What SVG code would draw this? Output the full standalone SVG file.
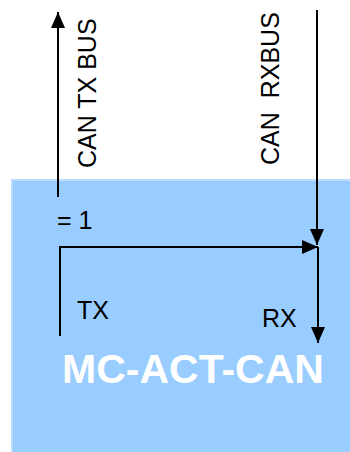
<svg xmlns="http://www.w3.org/2000/svg" width="350" height="452" viewBox="0 0 350 452">
<defs>
<style>
.t{font-family:"Liberation Sans",Arial,sans-serif;font-size:25px;fill:#000}
.w{font-family:"Liberation Sans",Arial,sans-serif;font-size:41px;font-weight:bold;fill:#fff}
.c{stroke:#000;stroke-width:2;fill:none}
</style>
<marker id="ah" viewBox="0 0 16 14" refX="16" refY="7" markerWidth="16" markerHeight="14" markerUnits="userSpaceOnUse" orient="auto">
<path d="M0,0 L16,7 L0,14 Z" fill="#000"/>
</marker>
</defs>
<g id="block">
<rect x="11" y="179" width="345" height="280" fill="#99CCFF"/>
<path d="M12,452 V180 H350" stroke="#BBDDFF" stroke-width="2" fill="none"/>
<text class="w" x="62" y="383">MC-ACT-CAN</text>
<text class="t" x="57" y="229">= 1</text>
<text class="t" x="77" y="319">TX</text>
<text class="t" x="262" y="327">RX</text>
</g>
<g id="labels">
<text class="t" transform="translate(96,168) rotate(-90)">CAN TX BUS</text>
<text class="t" transform="translate(279,165) rotate(-90)" xml:space="preserve">CAN  RXBUS</text>
</g>
<g id="connectors">
<line class="c" x1="58" y1="197" x2="58" y2="12" marker-end="url(#ah)"/>
<line class="c" x1="317" y1="10" x2="317" y2="245" marker-end="url(#ah)"/>
<polyline class="c" points="60,336 60,247 318,247" marker-end="url(#ah)"/>
<line class="c" x1="318" y1="247" x2="318" y2="343" marker-end="url(#ah)"/>
</g>
</svg>
